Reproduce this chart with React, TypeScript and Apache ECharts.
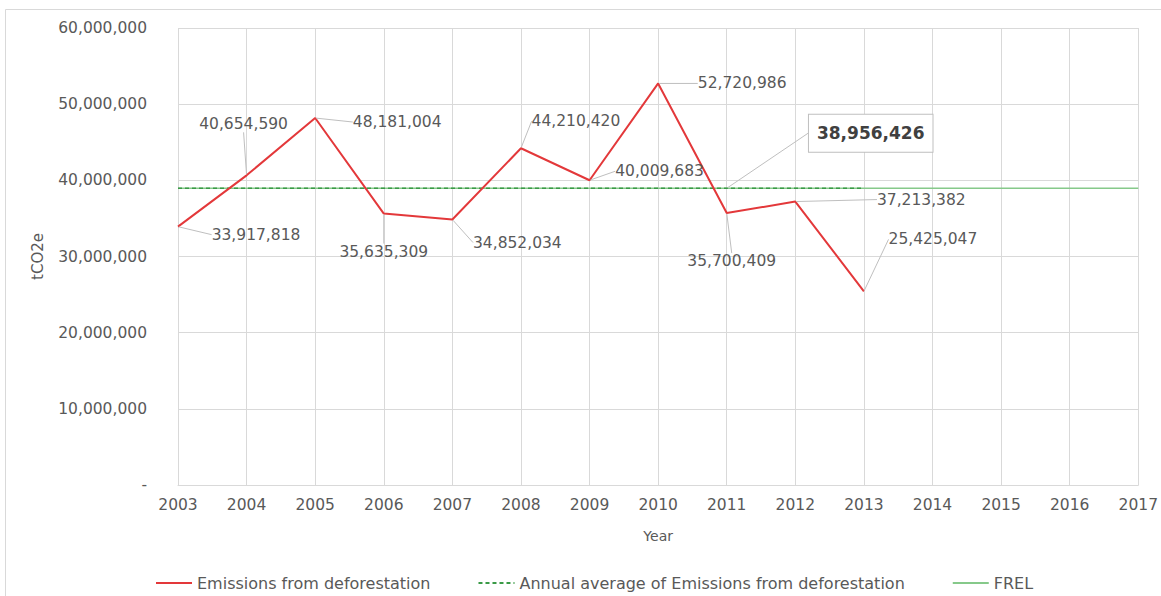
import React, { useEffect, useRef } from "react";
import * as echarts from "echarts";

const years = ["2003","2004","2005","2006","2007","2008","2009","2010","2011","2012","2013","2014","2015","2016","2017"];
const emissions = [33917818, 40654590, 48181004, 35635309, 34852034, 44210420, 40009683, 52720986, 35700409, 37213382, 25425047];
const annualAverage = 38956426;
const averageYears = 11; // 2003–2013
const frelValue = 38956426;
const seriesNames = ["Emissions from deforestation", "Annual average of Emissions from deforestation", "FREL"];

// label displacement relative to each point (styling)
const labelShift: [number, number][] = [
  [78, 8], [-3, -51], [82, 4], [0, 38], [65, 23], [55, -27], [70, -9], [84, 0], [5, 48], [126, -2], [69, -52],
];
const avgLabelIndex = 8;
const avgLabelShift: [number, number] = [144, -55];

const fmt = (v: number) => v.toLocaleString("en-US");
const FONT = "DejaVu Sans";
const TXT = "#595959";
const NUM = 15.5;

export default function App() {
  const ref = useRef<HTMLDivElement>(null);
  useEffect(() => {
    const chart = echarts.init(ref.current!, null, { renderer: "svg" });
    const avgData = years
      .slice(0, averageYears)
      .map((_, i) =>
        i === avgLabelIndex
          ? {
              value: annualAverage,
              label: {
                show: true,
                formatter: (p: any) => fmt(p.value),
                color: "#404040",
                fontSize: 17,
                fontWeight: "bold",
                fontFamily: FONT,
                backgroundColor: "#ffffff",
                borderColor: "#bfbfbf",
                borderWidth: 1,
                padding: [10, 8],
              },
              labelLine: { show: true, lineStyle: { color: "#bfbfbf", width: 1 } },
            }
          : { value: annualAverage }
      );
    const frelData = years.map(() => frelValue);
    const place = (shift: [number, number]) => (p: any) => {
      const cx = p.rect.x + p.rect.width / 2;
      const cy = p.rect.y + p.rect.height / 2;
      return { x: cx + shift[0], y: cy + shift[1], align: "center", verticalAlign: "middle" };
    };
    chart.setOption({
      animation: false,
      backgroundColor: "#ffffff",
      textStyle: { fontFamily: FONT },
      graphic: [
        {
          type: "rect",
          shape: { x: 5.5, y: 9.5, width: 1200, height: 700 },
          style: { fill: "none", stroke: "#d9d9d9", lineWidth: 1 },
          silent: true,
          z: -10,
        },
      ],
      grid: { left: 178, right: 22, top: 28, bottom: 111, containLabel: false },
      xAxis: {
        type: "category",
        data: years,
        boundaryGap: false,
        name: "Year",
        nameLocation: "middle",
        nameGap: 44,
        nameTextStyle: { color: TXT, fontSize: 14, fontFamily: FONT },
        axisLine: { lineStyle: { color: "#d9d9d9" } },
        axisTick: { show: false },
        axisLabel: { color: TXT, fontSize: NUM, margin: 12, fontFamily: FONT },
        splitLine: { show: true, lineStyle: { color: "#d9d9d9", width: 1 } },
      },
      yAxis: {
        type: "value",
        min: 0,
        max: 60000000,
        interval: 10000000,
        name: "tCO2e",
        nameLocation: "middle",
        nameGap: 133,
        nameRotate: 90,
        nameTextStyle: { color: TXT, fontSize: 15, fontFamily: FONT },
        axisLine: { show: false },
        axisTick: { show: false },
        axisLabel: {
          color: TXT,
          fontSize: NUM,
          margin: 31,
          fontFamily: FONT,
          formatter: (v: number) => (v === 0 ? "-" : fmt(v)),
        },
        splitLine: { lineStyle: { color: "#d9d9d9", width: 1 } },
      },
      legend: {
        left: 150,
        top: 570,
        itemWidth: 36,
        itemHeight: 10,
        itemGap: 47,
        textStyle: { color: TXT, fontSize: 16, fontFamily: FONT },
        data: seriesNames,
      },
      series: [
        {
          name: seriesNames[0],
          type: "line",
          data: emissions,
          z: 5,
          symbol: "circle",
          symbolSize: 2,
          showSymbol: true,
          itemStyle: { color: "transparent" },
          lineStyle: { color: "#e3383a", width: 2 },
          label: {
            show: true,
            color: TXT,
            fontSize: NUM,
            fontFamily: FONT,
            formatter: (p: any) => fmt(p.value),
          },
          labelLine: { show: true, lineStyle: { color: "#bfbfbf", width: 1 } },
          labelLayout: (p: any) => place(labelShift[p.dataIndex])(p),
        },
        {
          name: seriesNames[1],
          type: "line",
          data: avgData,
          z: 4,
          symbol: "circle",
          symbolSize: 2,
          showSymbol: true,
          itemStyle: { color: "transparent" },
          lineStyle: { color: "#3a9a47", width: 1.5, type: [4, 3] },
          label: { show: false },
          labelLayout: (p: any) => (p.dataIndex === avgLabelIndex ? place(avgLabelShift)(p) : {}),
        },
        {
          name: seriesNames[2],
          type: "line",
          data: frelData,
          z: 3,
          symbol: "circle",
          symbolSize: 2,
          showSymbol: false,
          itemStyle: { color: "transparent" },
          lineStyle: { color: "#86c98a", width: 1.5 },
        },
      ],
    });
    return () => chart.dispose();
  }, []);
  return (
    <div
      ref={ref}
      style={{ position: "absolute", left: 0, top: 0, width: 1161, height: 596 }}
    />
  );
}
